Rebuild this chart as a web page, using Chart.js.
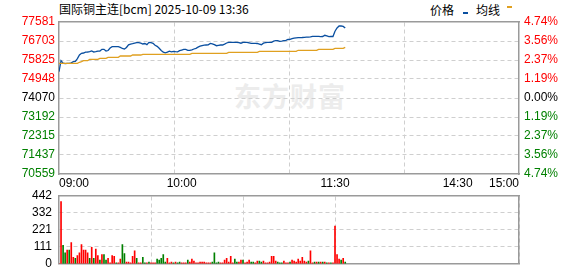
<!DOCTYPE html>
<html><head><meta charset="utf-8">
<script src="https://cdn.jsdelivr.net/npm/chart.js@4.4.1/dist/chart.umd.min.js"></script>
<style>
html,body{margin:0;padding:0;background:#fff;overflow:hidden;width:578px;height:276px;}
#wrap{position:relative;width:578px;height:276px;}
canvas{position:absolute;left:0;z-index:2;}
#c1{top:0;}
#c2{top:178px;}
.t{position:absolute;font-family:"Noto Sans CJK SC",sans-serif;font-size:12px;color:#000;white-space:nowrap;line-height:17px;}
#wm{position:absolute;left:234px;top:79px;font-family:"Noto Sans CJK SC",sans-serif;font-weight:bold;font-size:27px;line-height:34px;color:#ececec;z-index:1;letter-spacing:1px;}
.mk{position:absolute;width:5px;height:2px;}
</style></head><body>
<div id="wrap">
<div id="wm">东方财富</div>
<div class="t" style="left:59px;top:0px">国际铜主连[bcm] 2025-10-09 13:36</div>
<div class="t" style="left:430px;top:1px">价格</div>
<div class="mk" style="left:463px;top:12px;background:#0a4fa0"></div>
<div class="t" style="left:476px;top:1px">均线</div>
<div class="mk" style="left:507px;top:6px;background:#e0a020"></div>
<canvas id="c1" width="578" height="192"></canvas>
<canvas id="c2" width="578" height="100"></canvas>
</div>
<script>
// ---- data ----
const timeTickValues = [0, 60, 135, 195, 225];           // trading minutes from 09:00
const timeTickLabels = ['09:00', '10:00', '11:30', '14:30', '15:00'];
const sessionMinutes = 225;
const prevClose = 74070;
const priceTicks = [77581, 76703, 75825, 74948, 74070, 73192, 72315, 71437, 70559];
const pctTickLabels = ['4.74%', '3.56%', '2.37%', '1.19%', '0.00%', '1.19%', '2.37%', '3.56%', '4.74%'];
const volTicks = [0, 111, 221, 332, 442];

const price = [
75285,75793,75682,75659,75673,75673,75692,75747,75761,75890,
76057,76135,76149,76186,76195,76214,76246,76195,76209,76237,
76241,76320,76320,76241,76264,76380,76440,76440,76440,76440,
76408,76357,76329,76403,76528,76560,76579,76606,76629,76629,
76602,76565,76588,76537,76639,76625,76597,76505,76454,76366,
76264,76186,76158,76186,76237,76204,76227,76214,76204,76255,
76287,76320,76320,76274,76274,76297,76334,76366,76417,76463,
76491,76509,76518,76528,76592,76569,76532,76486,76505,76518,
76518,76560,76611,76643,76643,76643,76643,76643,76629,76602,
76643,76643,76643,76620,76597,76597,76597,76588,76560,76532,
76602,76629,76643,76643,76643,76699,76717,76717,76689,76694,
76717,76736,76773,76782,76814,76833,76846,76860,76860,76865,
76874,76879,76883,76893,76920,76920,76920,76920,76907,76911,
76967,76939,76907,76916,76911,77156,77308,77396,77396,77378,
77299];

const avgPrice = [
75673,75673,75673,75673,75673,75673,75673,75673,75673,75673,
75720,75747,75793,75793,75793,75858,75858,75858,75858,75858,
75904,75904,75904,75904,75950,75950,75950,75950,75950,75950,
76010,76010,76010,76010,76010,76010,76056,76056,76056,76056,
76056,76089,76089,76089,76089,76089,76089,76089,76089,76089,
76089,76089,76089,76089,76089,76089,76089,76089,76089,76089,
76089,76089,76089,76089,76089,76135,76135,76135,76135,76135,
76135,76135,76135,76135,76135,76135,76135,76135,76135,76135,
76135,76135,76135,76181,76181,76181,76181,76181,76181,76181,
76181,76181,76181,76181,76181,76181,76181,76181,76227,76227,
76227,76227,76227,76227,76227,76227,76227,76227,76227,76227,
76227,76227,76227,76227,76227,76227,76227,76274,76274,76274,
76274,76274,76274,76274,76274,76274,76274,76320,76320,76320,
76320,76320,76320,76320,76320,76366,76366,76366,76366,76366,
76412];

const volume = [
0,
406,120,72,90,90,138,42,36,54,72,126,90,90,72,36,108,36,96,54,24,
60,60,24,36,6,54,48,6,6,30,126,66,12,12,6,
48,84,36,6,6,42,6,6,12,6,6,6,30,24,36,60,12,36,6,12,
6,12,6,12,6,6,6,24,12,30,18,6,6,12,12,
12,6,6,6,12,72,6,12,6,6,24,36,12,48,6,30,12,12,24,24,
6,12,24,12,12,6,18,18,12,18,6,6,12,48,48,
18,12,6,6,18,6,6,12,24,18,12,30,18,42,18,12,18,84,6,12,
12,12,12,12,12,6,6,6,6,246,60,30,24,36,12];

// u = price up (red), d = price down (green)
const volDir = [
'u',
'u','d','d','u','d','u','u','d','u','u','u','u','u','u','d','u','d','u','u','d',
'u','d','d','u','u','u','u','d','u','u','d','d','u','u','u',
'u','u','d','u','u','d','d','u','d','u','u','u','d','d','d','d','d','u','u','u',
'd','u','d','d','u','u','u','d','u','u','u','u','u','u','u',
'u','u','u','u','d','d','d','d','u','u','u','u','u','u','u','d','d','u','u','d',
'u','u','u','d','d','u','u','d','d','u','u','u','u','u','u',
'u','d','d','d','u','u','u','d','u','u','u','u','u','u','u','u','d','u','u','d',
'u','d','u','d','u','d','u','d','u','u','u','u','d','u','d'];

// ---- style ----
const C_UP = '#ff0000', C_DN = '#008000', C_FLAT = '#000000';
const GRID = '#cfcfcf', BORDER = '#9a9a9a', BW = 1.5;
const FONT = {family: '"Liberation Sans", Arial, sans-serif', size: 12};
const CLEAR = 'rgba(0,0,0,0)';
const quarterTicks = [0, 1, 2, 3, 4].map(k => k * sessionMinutes / 4);

const setTicks = vals => s => { s.ticks = [...vals].sort((a, b) => a - b).map(v => ({value: v})); };
const fixW = w => s => { s.width = w; };
const fixH = h => s => { s.height = h; };
const dirColor = v => v > prevClose ? C_UP : (v < prevClose ? C_DN : C_FLAT);
const innerGrid = (lo, hi) => ctx => (ctx.tick && (ctx.tick.value === lo || ctx.tick.value === hi)) ? CLEAR : GRID;
const pMin = Math.min(...priceTicks), pMax = Math.max(...priceTicks);
const vMax = Math.max(...volTicks);

const gridXAxis = {
  type: 'linear', position: 'top', min: 0, max: sessionMinutes,
  afterBuildTicks: setTicks(quarterTicks), afterFit: fixH(0),
  grid: {color: innerGrid(0, sessionMinutes), drawTicks: false, lineWidth: 1},
  border: {display: true, color: BORDER, width: BW, dash: [4, 3]},
  ticks: {display: false}
};

new Chart(document.getElementById('c1'), {
  type: 'line',
  data: {datasets: [
    {label: '均线', data: avgPrice.map((v, i) => ({x: i, y: v})), borderColor: '#e0a020', borderWidth: 1.3,
     pointRadius: 0, xAxisID: 'x', yAxisID: 'y'},
    {label: '价格', data: price.map((v, i) => ({x: i, y: v})), borderColor: '#0a4fa0', borderWidth: 1.3,
     pointRadius: 0, xAxisID: 'x', yAxisID: 'y'}
  ]},
  options: {
    responsive: false, animation: false, events: [],
    layout: {padding: {top: 22, left: 0, right: 0, bottom: 0}},
    plugins: {legend: {display: false}, tooltip: {enabled: false}},
    scales: {
      x: {type: 'linear', position: 'bottom', min: 0, max: sessionMinutes,
        afterBuildTicks: setTicks(timeTickValues), afterFit: fixH(18),
        grid: {display: false, drawTicks: false},
        border: {display: true, color: BORDER, width: BW},
        ticks: {autoSkip: false, maxRotation: 0, align: 'inner', padding: 2, color: '#000', font: FONT,
          callback: v => timeTickLabels[timeTickValues.indexOf(v)]}},
      xg: gridXAxis,
      y: {type: 'linear', position: 'left', min: pMin, max: pMax,
        afterBuildTicks: setTicks(priceTicks), afterFit: fixW(59),
        grid: {color: innerGrid(pMin, pMax), drawTicks: false, lineWidth: 1},
        border: {display: true, color: BORDER, width: BW, dash: [4, 3]},
        ticks: {padding: 4, font: FONT, color: ctx => dirColor(ctx.tick.value), callback: v => String(v)}},
      y2: {type: 'linear', position: 'right', min: pMin, max: pMax,
        afterBuildTicks: setTicks(priceTicks), afterFit: fixW(59),
        grid: {display: false, drawTicks: false},
        border: {display: true, color: BORDER, width: BW},
        ticks: {padding: 5, font: FONT, color: ctx => dirColor(ctx.tick.value),
          callback: v => pctTickLabels[priceTicks.indexOf(v)]}}
    }
  }
});

new Chart(document.getElementById('c2'), {
  type: 'bar',
  data: {datasets: [{
    data: volume.map((v, i) => ({x: i, y: v})),
    backgroundColor: ctx => volDir[ctx.dataIndex] === 'u' ? C_UP : C_DN,
    barThickness: 1, borderWidth: 0, xAxisID: 'x', yAxisID: 'y'
  }]},
  options: {
    responsive: false, animation: false, events: [],
    layout: {padding: {top: 18, left: 0, right: 0, bottom: 0}},
    plugins: {legend: {display: false}, tooltip: {enabled: false}},
    scales: {
      x: {type: 'linear', position: 'bottom', offset: false, min: 0, max: sessionMinutes, afterFit: fixH(8),
        grid: {display: false, offset: false, drawTicks: false},
        border: {display: true, color: BORDER, width: BW},
        ticks: {display: false}},
      xg: gridXAxis,
      y: {type: 'linear', position: 'left', min: 0, max: vMax,
        afterBuildTicks: setTicks(volTicks), afterFit: fixW(59),
        grid: {color: innerGrid(0, vMax), drawTicks: false, lineWidth: 1},
        border: {display: true, color: BORDER, width: BW, dash: [4, 3]},
        ticks: {padding: 7, font: FONT, color: '#000', callback: v => String(v)}},
      y2: {type: 'linear', position: 'right', min: 0, max: vMax, afterFit: fixW(59),
        grid: {display: false, drawTicks: false},
        border: {display: true, color: BORDER, width: BW},
        ticks: {display: false}}
    }
  }
});
</script>
</body></html>
